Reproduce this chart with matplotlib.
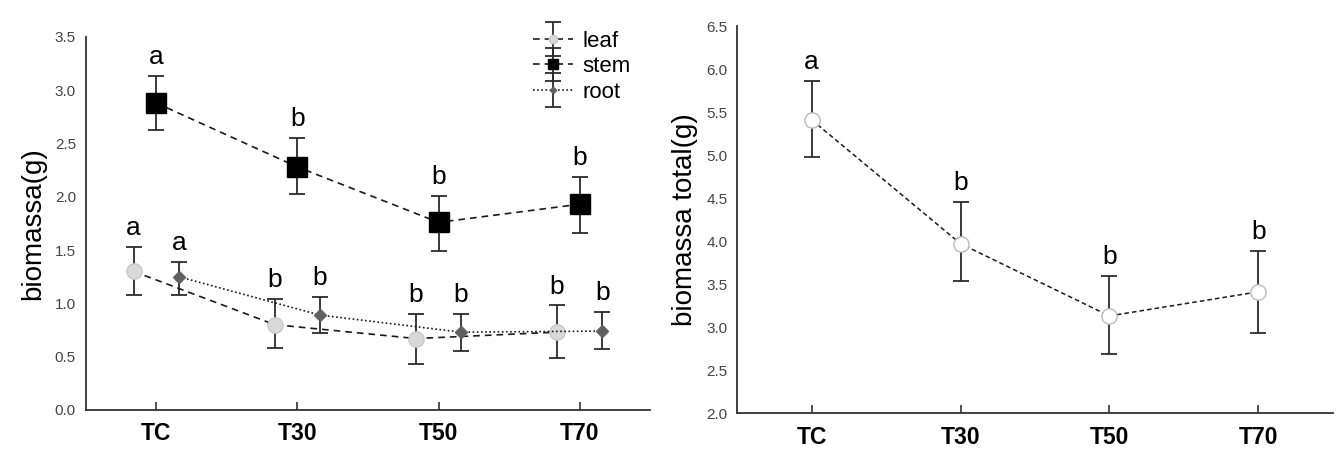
import numpy as np
import matplotlib
matplotlib.use('Agg')
import matplotlib.pyplot as plt
from matplotlib.legend_handler import HandlerErrorbar

plt.rcParams['font.family'] = ['Liberation Sans', 'DejaVu Sans']

treatments = ['TC', 'T30', 'T50', 'T70']

# painel esquerdo: biomassa por órgão (média, limite inferior, limite superior)
leaf_mean = [1.30, 0.80, 0.67, 0.73]
leaf_low = [1.08, 0.58, 0.43, 0.49]
leaf_high = [1.53, 1.04, 0.90, 0.98]
leaf_letters = ['a', 'b', 'b', 'b']

stem_mean = [2.88, 2.28, 1.76, 1.93]
stem_low = [2.63, 2.03, 1.49, 1.66]
stem_high = [3.13, 2.55, 2.01, 2.19]
stem_letters = ['a', 'b', 'b', 'b']

root_mean = [1.25, 0.89, 0.73, 0.74]
root_low = [1.08, 0.72, 0.55, 0.57]
root_high = [1.39, 1.06, 0.90, 0.92]
root_letters = ['a', 'b', 'b', 'b']

# painel direito: biomassa total
total_mean = [5.41, 3.97, 3.13, 3.41]
total_low = [4.98, 3.54, 2.69, 2.93]
total_high = [5.86, 4.46, 3.60, 3.88]
total_letters = ['a', 'b', 'b', 'b']

ERR_COLOR = '#2b2b2b'
TICK_COLOR = '#444444'


def draw_series(ax, x, mean, low, high, letters, ls, marker, ms, fc, ec, label, lw=1.2):
    mean = np.array(mean)
    yerr = [mean - np.array(low), np.array(high) - mean]
    h = ax.errorbar(x, mean, yerr=yerr, fmt=marker, ls=ls, color='#1a1a1a', lw=lw,
                    ms=ms, mfc=fc, mec=ec, ecolor=ERR_COLOR, elinewidth=1.3,
                    capsize=6, capthick=1.3, label=label, zorder=3)
    for xi, hi, let in zip(x, high, letters):
        ax.annotate(let, (xi, hi), xytext=(0, 5), textcoords='offset points',
                    ha='center', va='bottom', fontsize=19)
    return h


def style_axis(ax):
    ax.spines['top'].set_visible(False)
    ax.spines['right'].set_visible(False)
    ax.spines['left'].set_color('#333333')
    ax.spines['bottom'].set_color('#333333')
    ax.spines['left'].set_linewidth(1.3)
    ax.spines['bottom'].set_linewidth(1.3)
    ax.set_xlim(-0.5, 3.5)
    ax.set_xticks(range(len(treatments)))
    ax.set_xticklabels(treatments, fontsize=16.5, fontweight='bold')
    ax.tick_params(axis='x', direction='in', length=6, width=1.2, colors='#333333', pad=9)
    ax.tick_params(axis='x', labelcolor='black')
    ax.tick_params(axis='y', length=0, labelsize=11, labelcolor=TICK_COLOR, pad=7)


fig = plt.figure(figsize=(13.38, 4.5), dpi=100)
ax1 = fig.add_axes([0.064, 0.089, 0.422, 0.829])
ax2 = fig.add_axes([0.551, 0.082, 0.445, 0.860])

x = np.arange(len(treatments))
off = 0.16

h_leaf = draw_series(ax1, x - off, leaf_mean, leaf_low, leaf_high, leaf_letters,
                     (0, (4, 3)), 'o', 11, '#d9d9d9', '#c8c8c8', 'leaf')
h_stem = draw_series(ax1, x, stem_mean, stem_low, stem_high, stem_letters,
                     (0, (4, 3)), 's', 14, 'black', 'black', 'stem')
h_root = draw_series(ax1, x + off, root_mean, root_low, root_high, root_letters,
                     (0, (1, 1.5)), 'D', 6, '#606060', '#606060', 'root')

style_axis(ax1)
ax1.set_ylim(0, 3.5)
ax1.set_yticks(np.arange(0, 3.51, 0.5))
ax1.set_yticklabels(['%.1f' % v for v in np.arange(0, 3.51, 0.5)])
ax1.set_ylabel('biomassa(g)', fontsize=20, labelpad=6)

leg = ax1.legend(handles=[h_leaf, h_stem, h_root], loc='upper right',
                 bbox_to_anchor=(1.0, 1.07), frameon=False, fontsize=16,
                 handlelength=1.8, handletextpad=0.4, labelspacing=0.2,
                 markerscale=0.55,
                 handler_map={type(h_leaf): HandlerErrorbar(xerr_size=0.9, yerr_size=0.75)})

draw_series(ax2, x, total_mean, total_low, total_high, total_letters,
            (0, (3, 2)), 'o', 11, 'white', '#bbbbbb', 'total', lw=1.1)
style_axis(ax2)
ax2.set_ylim(2.0, 6.5)
ax2.set_yticks(np.arange(2.0, 6.51, 0.5))
ax2.set_yticklabels(['%.1f' % v for v in np.arange(2.0, 6.51, 0.5)])
ax2.set_ylabel('biomassa total(g)', fontsize=20, labelpad=6)

plt.savefig('out.png', dpi=100)
